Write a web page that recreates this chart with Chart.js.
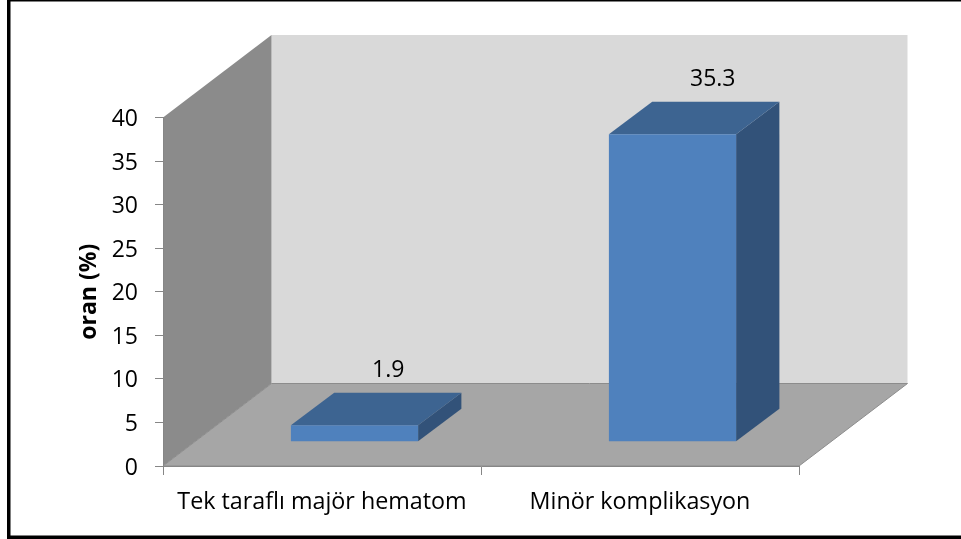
<!DOCTYPE html>
<html><head><meta charset="utf-8">
<style>html,body{margin:0;padding:0;background:#fff}#w{position:relative;width:961px;height:539px}</style>
<script src="https://cdn.jsdelivr.net/npm/chart.js@4"></script>
</head><body><div id="w"><canvas id="c" width="961" height="539"></canvas></div>
<script>
const categories = ["Tek taraflı majör hematom", "Minör komplikasyon"];
const values = [1.9, 35.3];
const valueLabels = ["1.9", "35.3"];
const yMin = 0, yMax = 40, yStep = 5;
const yTitle = "oran (%)";
const FONT = "'Open Sans'";
const wallDepth = {x: 108.5, y: -82.5};
const barShift = {x: 32.5, y: -24.3};
const barDepth = {x: 43.3, y: -32.5};

function poly(ctx, pts, fill, stroke){
  ctx.beginPath();
  pts.forEach((p,i)=> i ? ctx.lineTo(p[0],p[1]) : ctx.moveTo(p[0],p[1]));
  ctx.closePath();
  ctx.fillStyle = fill; ctx.fill();
  if(stroke){ctx.strokeStyle = stroke; ctx.lineWidth = 1; ctx.stroke();}
}
const scene = {
  id:'scene',
  beforeDraw(chart){
    const {ctx, chartArea:a, width, height} = chart;
    const dx = wallDepth.x, dy = wallDepth.y;
    ctx.save();
    ctx.fillStyle = '#000';
    ctx.fillRect(7,0,3.5,height);
    ctx.fillRect(7,0,width-7,1.5);
    ctx.fillRect(7,535.5,width-7,4);
    poly(ctx, [[a.left+dx,a.top+dy],[a.right+dx,a.top+dy],[a.right+dx,a.bottom+dy],[a.left+dx,a.bottom+dy]], '#d9d9d9');
    poly(ctx, [[a.left,a.top],[a.left+dx,a.top+dy],[a.left+dx,a.bottom+dy],[a.left,a.bottom]], '#8b8b8b');
    poly(ctx, [[a.left,a.bottom],[a.right,a.bottom],[a.right+dx,a.bottom+dy],[a.left+dx,a.bottom+dy]], '#a6a6a6', '#8c8c8c');
    ctx.restore();
  },
  beforeDatasetDraw(chart,args){
    const ctx = chart.ctx;
    ctx.save();
    ctx.translate(barShift.x, barShift.y);
    args.meta.data.forEach(el=>{
      const p = el.getProps(['x','y','base','width'],true);
      const l = p.x-p.width/2, r = p.x+p.width/2, dx = barDepth.x, dy = barDepth.y;
      poly(ctx, [[r,p.y],[r+dx,p.y+dy],[r+dx,p.base+dy],[r,p.base]], '#325279');
      poly(ctx, [[l,p.y],[r,p.y],[r+dx,p.y+dy],[l+dx,p.y+dy]], '#3d6491');
    });
  },
  afterDatasetDraw(chart,args){
    const ctx = chart.ctx;
    ctx.restore();
    ctx.save();
    ctx.font = '23px '+FONT;
    ctx.fillStyle = '#000';
    ctx.textAlign = 'left';
    ctx.textBaseline = 'middle';
    args.meta.data.forEach((el,i)=>{
      const p = el.getProps(['x','y'],true);
      ctx.fillText(valueLabels[i], p.x+barShift.x+17.5, p.y+barShift.y+barDepth.y-22.5);
    });
    ctx.restore();
  }
};
new Chart(document.getElementById('c'),{
  type:'bar',
  data:{labels:categories,datasets:[{data:values,backgroundColor:'#4f81bd',borderWidth:0,barPercentage:0.4,categoryPercentage:1,clip:false}]},
  options:{
    responsive:false,animation:false,
    layout:{padding:{left:0,right:162,top:117.5,bottom:0}},
    plugins:{legend:{display:false},tooltip:{enabled:false},title:{display:false}},
    scales:{
      x:{
        afterFit(s){s.height=73;},
        grid:{offset:true,drawOnChartArea:false,tickLength:9,color:'#868686'},
        border:{color:'#868686'},
        ticks:{color:'#000',font:{family:FONT,size:23.3},padding:13,maxRotation:0,autoSkip:false}
      },
      y:{
        min:yMin,max:yMax,
        afterFit(s){s.width=163;},
        grid:{drawOnChartArea:false,tickLength:8,color:'#868686'},
        border:{color:'#868686'},
        ticks:{stepSize:yStep,color:'#000',font:{family:FONT,size:23},padding:17,labelOffset:2},
        title:{display:true,text:yTitle,color:'#000',font:{family:FONT,size:23,weight:'bold'},padding:{top:76,bottom:0}}
      }
    }
  },
  plugins:[scene]
});
</script></body></html>
